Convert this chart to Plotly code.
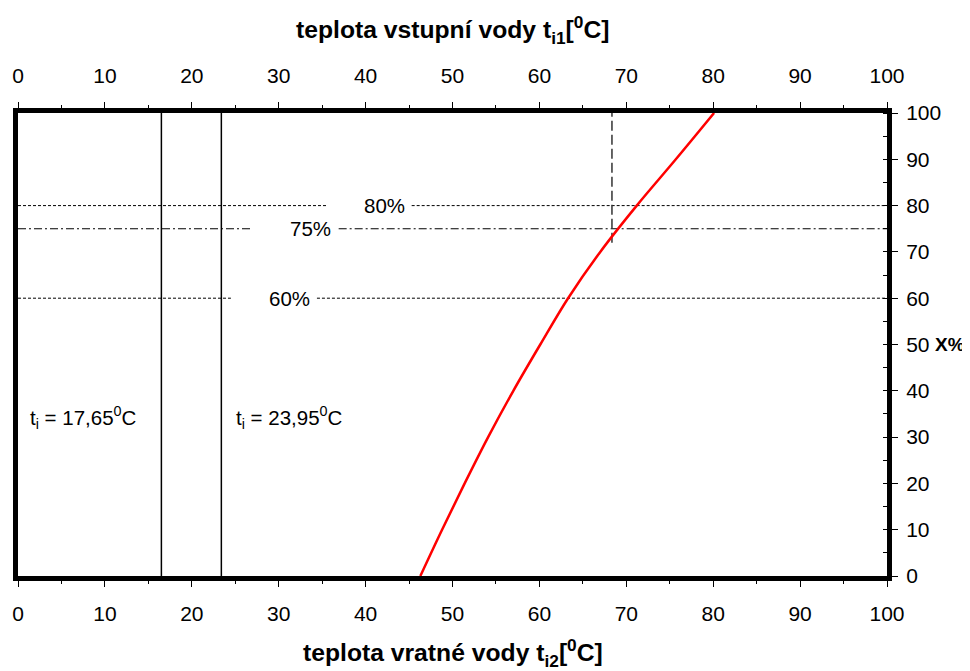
import plotly.graph_objects as go

# ---- data ----
x_ticks = [0, 10, 20, 30, 40, 50, 60, 70, 80, 90, 100]
y_ticks = [0, 10, 20, 30, 40, 50, 60, 70, 80, 90, 100]

# red curve: percentage X vs temperature
curve_x_pct = [0, 10, 20, 30, 40, 50, 60, 70, 80, 90, 100]
curve_t = [46.3, 48.8, 51.4, 54.1, 57.0, 60.1, 63.3, 67.0, 71.2, 75.7, 80.1]

# vertical temperature lines
ti_values = [16.5, 23.4]
ti_labels = ["t<sub>i</sub> = 17,65<sup>0</sup>C", "t<sub>i</sub> = 23,95<sup>0</sup>C"]
ti_label_x = [1.1, 24.9]
ti_label_y = [34.2, 34.2]

# dashed vertical marker
marker_t = 68.35
marker_y = [72, 100]

# horizontal percentage lines (left segment end, right segment start)
pct_levels = [80, 75, 60]
pct_left_end = [35.5, 27.0, 24.5]
pct_right_start = [45.3, 36.9, 34.4]
pct_label_x = [42.2, 33.7, 31.2]
pct_labels = ["80%", "75%", "60%"]
pct_dash = ["3px,2px", "8px,3px,2px,3px", "3px,2px"]

FONT = "Liberation Sans, Arial, sans-serif"

fig = go.Figure()

for lvl, le, rs, d in zip(pct_levels, pct_left_end, pct_right_start, pct_dash):
    fig.add_trace(go.Scatter(x=[0, le, None, rs, 100], y=[lvl, lvl, None, lvl, lvl],
                             mode="lines", line=dict(color="black", width=1, dash=d),
                             showlegend=False, hoverinfo="skip"))

for t in ti_values:
    fig.add_trace(go.Scatter(x=[t, t], y=[0, 100], mode="lines",
                             line=dict(color="black", width=1.5),
                             showlegend=False, hoverinfo="skip"))

fig.add_trace(go.Scatter(x=[marker_t, marker_t], y=marker_y, mode="lines",
                         line=dict(color="#333333", width=1.5, dash="10px,4px"),
                         showlegend=False, hoverinfo="skip"))

fig.add_trace(go.Scatter(x=curve_t, y=curve_x_pct, mode="lines",
                         line=dict(color="#ff0000", width=2.5, shape="spline"),
                         showlegend=False))

# invisible trace on top axis
fig.add_trace(go.Scatter(x=[0, 100], y=[0, 0], xaxis="x2", mode="lines",
                         line=dict(width=0), opacity=0, showlegend=False, hoverinfo="skip"))

for lab, lx, ly in zip(ti_labels, ti_label_x, ti_label_y):
    fig.add_annotation(x=lx, y=ly, xref="x", yref="y", text=lab, showarrow=False,
                       xanchor="left", yanchor="middle",
                       font=dict(size=20.5, color="black", family=FONT))

for lab, lx, ly in zip(pct_labels, pct_label_x, pct_levels):
    fig.add_annotation(x=lx, y=ly, xref="x", yref="y", text=lab, showarrow=False,
                       xanchor="center", yanchor="middle",
                       font=dict(size=20.5, color="black", family=FONT))

fig.add_annotation(x=1.072, y=0.5, xref="paper", yref="paper", text="<b>X%</b>",
                   showarrow=False, xanchor="center", yanchor="middle",
                   font=dict(size=19, color="black", family=FONT))
fig.add_annotation(x=0.5, y=-0.166, xref="paper", yref="paper",
                   text="<b>teplota vratné vody t<sub>i2</sub>[<sup>0</sup>C]</b>",
                   showarrow=False, xanchor="center", yanchor="middle",
                   font=dict(size=24.7, color="black", family=FONT))
fig.add_annotation(x=0.5, y=1.179, xref="paper", yref="paper",
                   text="<b>teplota vstupní vody t<sub>i1</sub>[<sup>0</sup>C]</b>",
                   showarrow=False, xanchor="center", yanchor="middle",
                   font=dict(size=24.7, color="black", family=FONT))

axis_common = dict(range=[0, 100], tickvals=x_ticks, showgrid=False, zeroline=False,
                   automargin=False,
                   ticks="outside", ticklen=6, tickwidth=1, tickcolor="black",
                   tickfont=dict(size=21, color="black", family=FONT),
                   showline=True, linecolor="black", linewidth=5,
                   minor=dict(dtick=5, ticks="outside", ticklen=3, tickcolor="black", showgrid=False))

fig.update_layout(
    width=962, height=663,
    margin=dict(l=10, r=83, t=105, b=95),
    plot_bgcolor="white", paper_bgcolor="white",
    font=dict(family=FONT, color="black"),
    xaxis=dict(**axis_common, side="bottom", mirror=False, ticklabelstandoff=9),
    xaxis2=dict(**axis_common, side="top", overlaying="x", anchor="y", ticklabelstandoff=11),
    yaxis=dict(range=[0, 100], tickvals=y_ticks, side="right", showgrid=False, zeroline=False,
               automargin=False,
               ticks="outside", ticklen=6, tickwidth=1, tickcolor="black",
               tickfont=dict(size=21, color="black", family=FONT),
               showline=True, linecolor="black", linewidth=5, mirror=True,
               ticklabelstandoff=4,
               minor=dict(dtick=5, ticks="inside", ticklen=4, tickcolor="black", showgrid=False)),
)

fig.write_html("out.html")
